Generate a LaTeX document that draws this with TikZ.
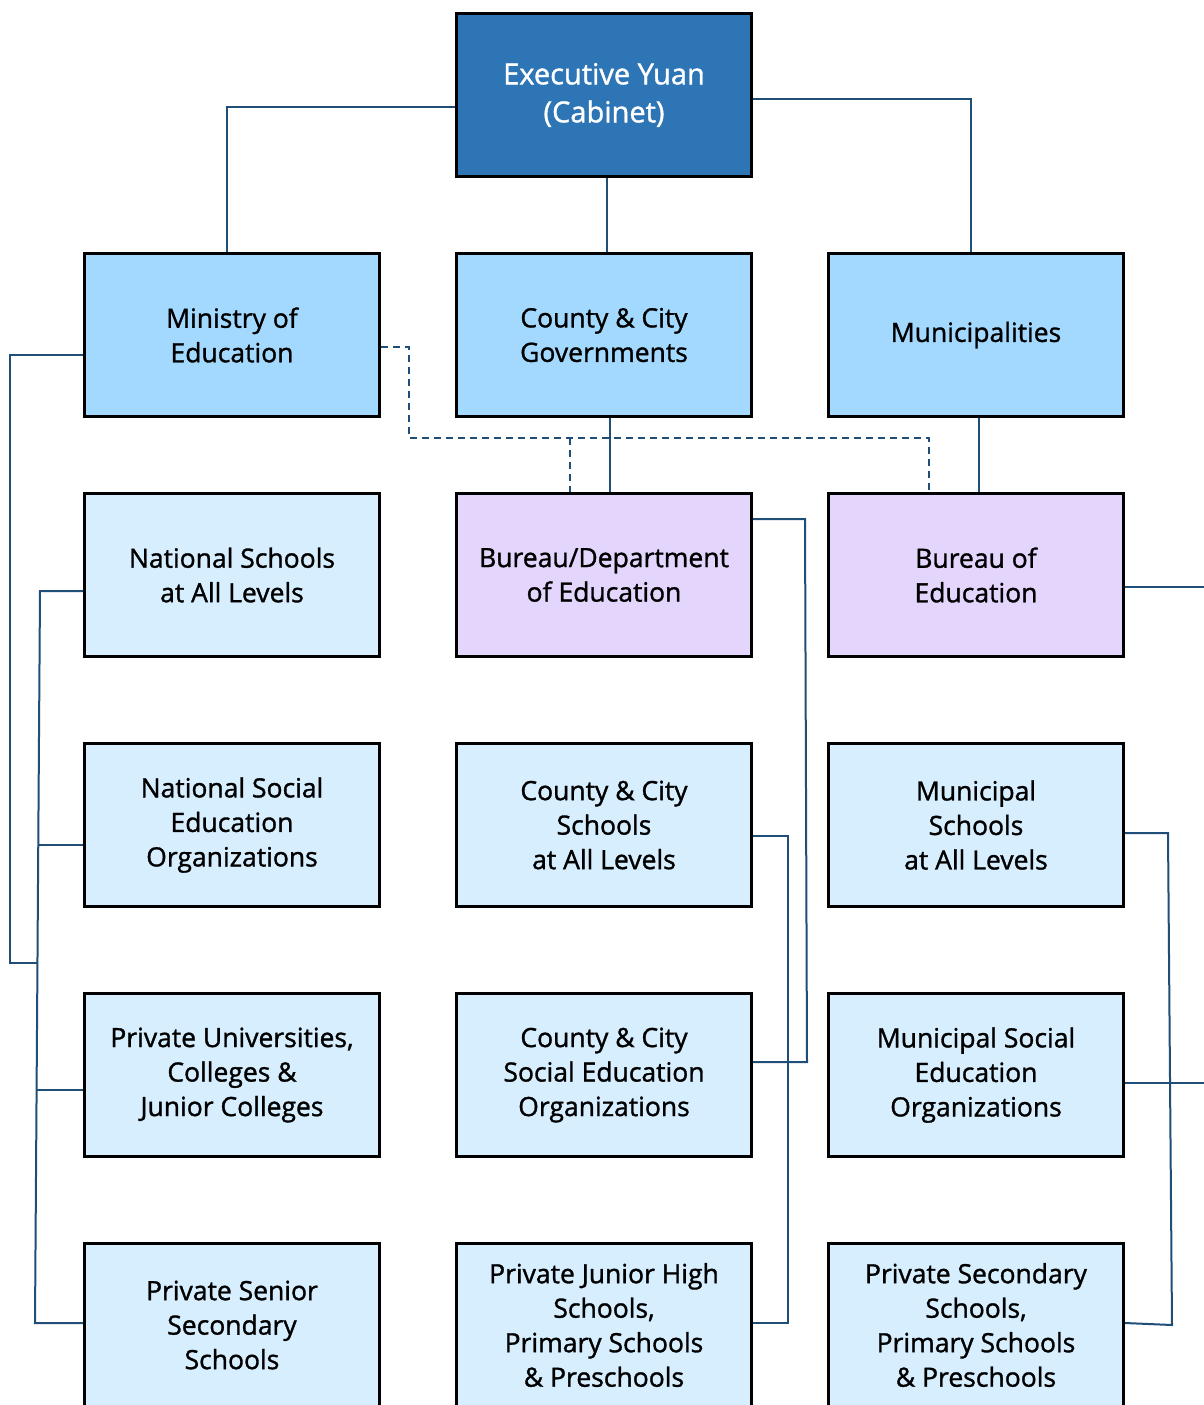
\documentclass[tikz,border=0pt]{standalone}
\usepackage{fontspec}
\setmainfont{Open Sans}[FakeBold=1.2]
\usepackage{xcolor}
\definecolor{cabinet}{HTML}{2E75B6}
\definecolor{agency}{HTML}{A3D9FE}
\definecolor{bureau}{HTML}{E4D5FD}
\definecolor{school}{HTML}{D6EEFD}
\definecolor{link}{HTML}{1F4E79}

\begin{document}
\begin{tikzpicture}[x=1pt, y=-1pt,
  unit/.style={draw=black, line width=3pt, minimum width=295pt, minimum height=163pt,
    inner sep=0pt, align=center, font=\fontsize{26.5}{34.5}\selectfont},
  wire/.style={draw=link, line width=2pt},
  dotwire/.style={wire, dashed, dash pattern=on 7pt off 5pt}]
\clip (0,0) rectangle (1204,1405);
\fill [white] (0,0) rectangle (1204,1405);

\node [unit, fill=cabinet, text=white, font=\fontsize{29}{38}\selectfont] (exec) at (604,95) {Executive Yuan\\(Cabinet)};
\node [unit, fill=agency] (moe) at (232,335) {Ministry of\\Education};
\node [unit, fill=agency] (ccgov) at (604,335) {County \& City\\Governments};
\node [unit, fill=agency] (muni) at (976,335) {Municipalities};
\node [unit, fill=school] (natsch) at (232,575) {National Schools\\at All Levels};
\node [unit, fill=bureau] (bdoe) at (604,575) {Bureau/Department\\of Education};
\node [unit, fill=bureau] (boe) at (976,575) {Bureau of\\Education};
\node [unit, fill=school] (natsoc) at (232,825) {National Social\\Education\\Organizations};
\node [unit, fill=school] (ccsch) at (604,825) {County \& City\\Schools\\at All Levels};
\node [unit, fill=school] (munsch) at (976,825) {Municipal\\Schools\\at All Levels};
\node [unit, fill=school] (privuni) at (232,1075) {Private Universities,\\Colleges \&\\Junior Colleges};
\node [unit, fill=school] (ccsoc) at (604,1075) {County \& City\\Social Education\\Organizations};
\node [unit, fill=school] (munsoc) at (976,1075) {Municipal Social\\Education\\Organizations};
\node [unit, fill=school] (privsen) at (232,1325) {Private Senior\\Secondary\\Schools};
\node [unit, fill=school] (privjh) at (604,1325) {Private Junior High\\Schools,\\Primary Schools\\\& Preschools};
\node [unit, fill=school] (privsec) at (976,1325) {Private Secondary\\Schools,\\Primary Schools\\\& Preschools};

\coordinate (edge1) at (1204,587);
\coordinate (edge2) at (1204,1083);

\draw [wire] (exec.west |- 0,107) -| (moe.north -| 227,0);
\draw [wire] (exec.south -| 607,0) -- (ccgov.north -| 607,0);
\draw [wire] (exec.east |- 0,99) -| (muni.north -| 971,0);
\draw [wire] (ccgov.south -| 610,0) -- (bdoe.north -| 610,0);
\draw [wire] (muni.south -| 979,0) -- (boe.north -| 979,0);
\draw [dotwire] (moe.east |- 0,347) -| (409,438) -| (boe.north -| 929,0);
\draw [dotwire] (570,438) -- (bdoe.north -| 570,0);

\draw [wire] (moe.west |- 0,355) -| (10,963) -- (38,963);
\draw [wire] (natsch.west |- 0,591) -- (40,591) -- (35,1323) -- (privsen.west |- 0,1323);
\draw [wire] (natsoc.west |- 0,845) -- (38,845);
\draw [wire] (privuni.west |- 0,1090) -- (37,1090);

\draw [wire] (bdoe.east |- 0,519) -- (805,519) -- (807,1062) -- (ccsoc.east |- 0,1062);
\draw [wire] (ccsch.east |- 0,836) -- (788,836) -- (788,1323) -- (privjh.east |- 0,1323);

\draw [wire] (boe.east |- 0,587) -- (edge1);
\draw [wire] (munsoc.east |- 0,1083) -- (edge2);
\draw [wire] (munsch.east |- 0,833) -- (1168,833) -- (1172,1325) -- (privsec.east |- 0,1323);
\end{tikzpicture}
\end{document}
